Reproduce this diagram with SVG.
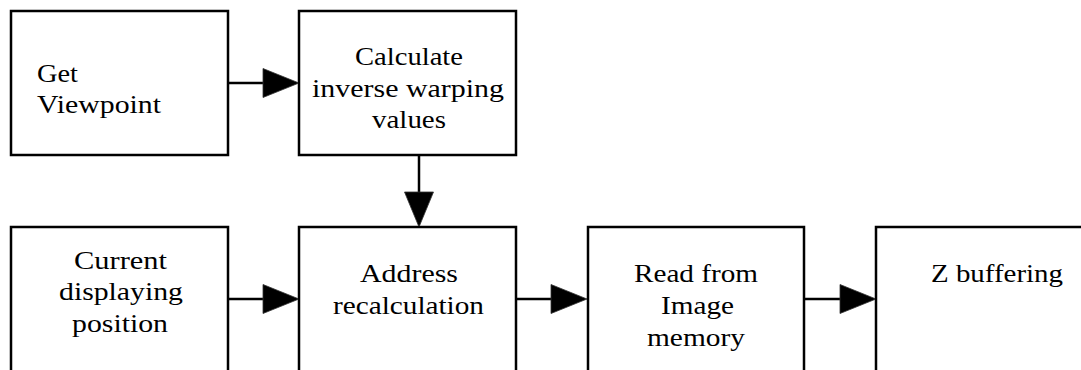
<svg xmlns="http://www.w3.org/2000/svg" width="1081" height="370" viewBox="0 0 1081 370">
<style>
.box{fill:#fff;stroke:#000;stroke-width:2.5}
.lbl{font-family:"Liberation Serif","DejaVu Serif",serif;font-size:26px;fill:#000;text-anchor:middle}
.conn{stroke:#000;stroke-width:2.5;fill:none}
.head{fill:#000;stroke:#333;stroke-width:0.8}
</style>
<rect width="1081" height="370" fill="#fff"/>
<g id="connectors">
<line class="conn" x1="228" y1="83" x2="265" y2="83"/>
<polygon class="head" points="263,68.5 299,83 263,97.5"/>
<line class="conn" x1="419" y1="155" x2="419" y2="194"/>
<polygon class="head" points="404.5,192 433.5,192 419,227"/>
<line class="conn" x1="228" y1="299" x2="265" y2="299"/>
<polygon class="head" points="263,284.5 299,299 263,313.5"/>
<line class="conn" x1="516" y1="299" x2="553" y2="299"/>
<polygon class="head" points="551,284.5 587,299 551,313.5"/>
<line class="conn" x1="804" y1="299" x2="842" y2="299"/>
<polygon class="head" points="840,284.5 876,299 840,313.5"/>
</g>
<g id="n1">
<rect class="box" x="11" y="11" width="217" height="144"/>
<text class="lbl" style="text-anchor:start" x="37" y="82" textLength="41" lengthAdjust="spacingAndGlyphs">Get</text>
<text class="lbl" style="text-anchor:start" x="37" y="113" textLength="124" lengthAdjust="spacingAndGlyphs">Viewpoint</text>
</g>
<g id="n2">
<rect class="box" x="299" y="11" width="217" height="144"/>
<text class="lbl" x="409" y="65" textLength="108" lengthAdjust="spacingAndGlyphs">Calculate</text>
<text class="lbl" x="408" y="97" textLength="192" lengthAdjust="spacingAndGlyphs">inverse warping</text>
<text class="lbl" x="409" y="128" textLength="74" lengthAdjust="spacingAndGlyphs">values</text>
</g>
<g id="n3">
<rect class="box" x="11" y="227" width="217" height="160"/>
<text class="lbl" x="120.5" y="269" textLength="93" lengthAdjust="spacingAndGlyphs">Current</text>
<text class="lbl" x="121" y="300" textLength="124" lengthAdjust="spacingAndGlyphs">displaying</text>
<text class="lbl" x="120" y="332" textLength="96" lengthAdjust="spacingAndGlyphs">position</text>
</g>
<g id="n4">
<rect class="box" x="299" y="227" width="217" height="160"/>
<text class="lbl" x="409" y="282" textLength="98" lengthAdjust="spacingAndGlyphs">Address</text>
<text class="lbl" x="408.5" y="314" textLength="151" lengthAdjust="spacingAndGlyphs">recalculation</text>
</g>
<g id="n5">
<rect class="box" x="588" y="227" width="216" height="160"/>
<text class="lbl" x="696" y="282" textLength="124" lengthAdjust="spacingAndGlyphs">Read from</text>
<text class="lbl" x="697.5" y="314" textLength="73" lengthAdjust="spacingAndGlyphs">Image</text>
<text class="lbl" x="696" y="346" textLength="98" lengthAdjust="spacingAndGlyphs">memory</text>
</g>
<g id="n6">
<rect class="box" x="876" y="227" width="240" height="160"/>
<text class="lbl" x="997" y="282" textLength="132" lengthAdjust="spacingAndGlyphs">Z buffering</text>
</g>
</svg>
